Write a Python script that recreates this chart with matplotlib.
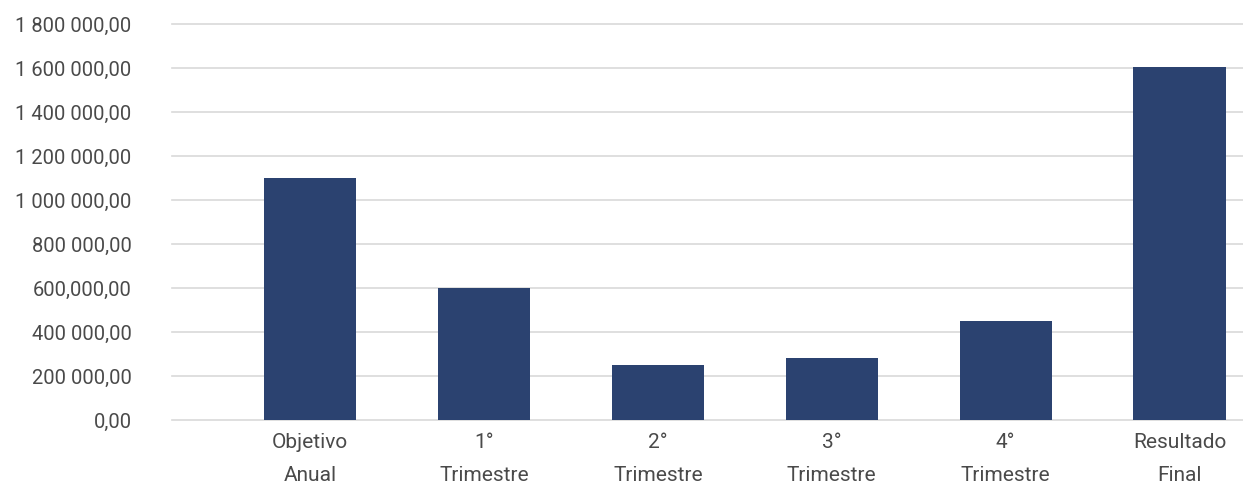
import matplotlib
matplotlib.use("Agg")
import matplotlib.pyplot as plt

categories = ["Objetivo\nAnual", "1°\nTrimestre", "2°\nTrimestre", "3°\nTrimestre", "4°\nTrimestre", "Resultado\nFinal"]
values = [1100000, 600000, 250000, 280000, 450000, 1605000]
ytick_values = [0, 200000, 400000, 600000, 800000, 1000000, 1200000, 1400000, 1600000, 1800000]
ytick_labels = ["0,00", "200 000,00", "400 000,00", "600,000,00", "800 000,00",
                "1 000 000,00", "1 200 000,00", "1 400 000,00", "1 600 000,00", "1 800 000,00"]

plt.rcParams['font.family'] = ['Roboto', 'DejaVu Sans']

fig = plt.figure(figsize=(12.43, 4.86), dpi=100)
ax = fig.add_axes([172/1243, 66/486, 1 - 172/1243, (420-24)/486])

x = list(range(len(categories)))
ax.bar(x, values, width=0.53, color="#2B4270", zorder=3)

ax.set_ylim(0, 1800000)
ax.set_xlim(-0.794, 5.365)
ax.set_yticks(ytick_values)
ax.set_yticklabels(ytick_labels)
ax.set_xticks(x)
ax.set_xticklabels(categories, linespacing=1.95)

ax.yaxis.grid(True, color="#D9D9D9", linewidth=1.2, zorder=0)
for gl in ax.get_ygridlines():
    gl.set_clip_on(False)
ax.set_axisbelow(True)
for s in ax.spines.values():
    s.set_visible(False)
ax.tick_params(axis='both', length=0, colors="#4A4A4A")
ax.tick_params(axis='y', pad=29, labelsize=14.5)
ax.tick_params(axis='x', pad=9.5, labelsize=15)

fig.savefig("out.png", dpi=100)
